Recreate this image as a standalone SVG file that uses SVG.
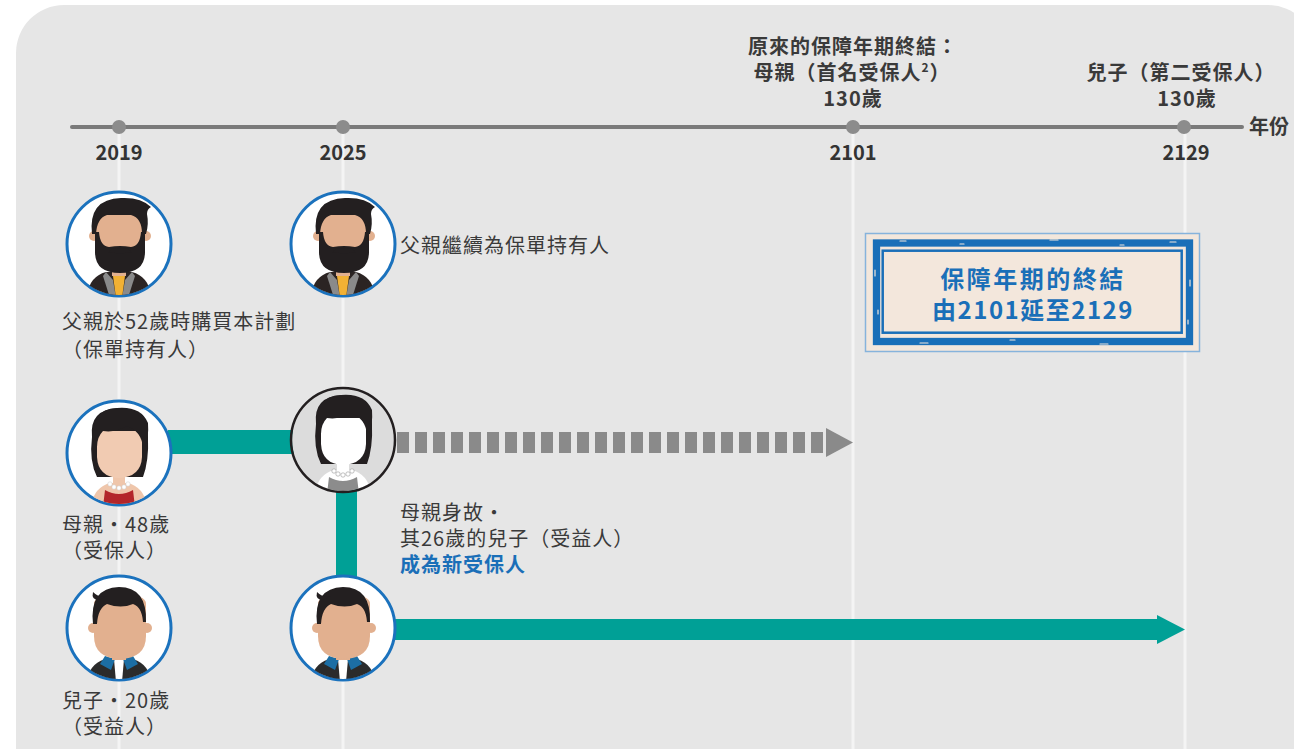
<svg xmlns="http://www.w3.org/2000/svg" width="1294" height="749" viewBox="0 0 1294 749">
  <style>
    .t { font-family: "Noto Sans CJK TC", "Noto Sans", sans-serif; font-size: 20px; fill: #3a3a3a; letter-spacing: 1px; }
    .b { font-weight: bold; }
    .yr { font-family: "Noto Sans CJK TC", "Noto Sans", sans-serif; font-size: 20px; font-weight: bold; fill: #333; text-anchor: middle; }
    .mid { text-anchor: middle; }
    .blue { fill: #1a6fb8; }
    .guide { stroke: #f4f4f4; stroke-width: 3; }
    .dot { fill: #8c8c8c; }
    .ring { fill: #fff; stroke: #1b72bd; stroke-width: 3; }
    .teal { fill: #00a096; }
    .skin { fill: #e2b08f; }
    .hair { fill: #231f20; }
    .stamp { font-size: 24px; }
  </style>
  <defs>
    <clipPath id="disc"><circle cx="0" cy="0" r="51"/></clipPath>

    <!-- father: dark swept hair, full beard, dark jacket -->
    <g id="art-father" clip-path="url(#disc)">
      <path d="M-32 54 Q-31 33 -13 28 L13 28 Q31 33 32 54 Z" fill="#2b2423"/>
      <path d="M-13 28 L-6 36 L-3 54 L-9 54 L-16 32 Z" fill="#8a8a8a"/>
      <path d="M13 28 L6 36 L3 54 L9 54 L16 32 Z" fill="#8a8a8a"/>
      <path d="M-6 32 L6 32 L3 54 L-3 54 Z" fill="#f2b134"/>
      <rect x="-7" y="16" width="14" height="16" class="skin"/>
      <circle cx="-25" cy="-8" r="5" class="skin"/>
      <circle cx="27" cy="-8" r="5" class="skin"/>
      <path d="M-23 -30 H25 V8 Q25 26 1 27 Q-23 26 -23 8 Z" class="skin"/>
      <path d="M-24 -12 L-24 8 Q-24 29 1 29 Q26 29 26 8 L26 -12 L22 -12 Q21 2 12 3 Q1 1 -10 3 Q-19 2 -20 -12 Z" class="hair"/>
      <path d="M-11 9 Q-6 2 1 5 Q8 2 13 9 Q9 7 6 9 Q1 10 -4 9 Q-7 7 -11 9 Z" class="hair"/>
      <path d="M-27 -10 Q-31 -45 2 -46 Q22 -47 32 -37 Q28 -35 28 -30 Q30 -20 27 -10 L23 -10 Q23 -26 12 -29 L-12 -29 Q-22 -26 -23 -10 Z" class="hair"/>
    </g>

    <!-- mother: voluminous hair, red dress, pearl necklace -->
    <g id="art-mother" clip-path="url(#disc)">
      <path d="M-27 -16 Q-30 -44 0 -45 Q30 -45 29 -16 Q30 8 24 24 L-22 24 Q-30 8 -27 -16 Z" class="hair"/>
      <path d="M-28 54 Q-26 35 -9 30 L9 30 Q26 35 28 54 Z" fill="#efc6ab"/>
      <path d="M-16 54 L-14 37 Q0 45 14 37 L16 54 Z" fill="#b3262a"/>
      <rect x="-6" y="14" width="12" height="18" fill="#efc6ab"/>
      <path d="M-22 -22 L-22 4 Q-21 24 0 25 Q22 24 23 4 L23 -22 Z" fill="#f1cbb2"/>
      <path d="M-26 -6 Q-31 -44 -2 -45 Q22 -47 29 -30 Q30 -16 26 -6 L24 -6 Q22 -22 8 -27 Q-4 -20 -16 -22 Q-22 -16 -22 -6 Z" class="hair"/>
      <g fill="#fff" stroke="#ccc" stroke-width="0.5">
        <circle cx="-9" cy="31" r="2.2"/><circle cx="-5" cy="34" r="2.2"/><circle cx="0" cy="35" r="2.2"/>
        <circle cx="5" cy="34" r="2.2"/><circle cx="9" cy="31" r="2.2"/>
      </g>
    </g>

    <!-- mother after passing: greyed-out version -->
    <g id="art-mother-grey" clip-path="url(#disc)">
      <circle cx="0" cy="0" r="52" fill="#dcdcdc"/>
      <path d="M-27 -16 Q-30 -44 0 -45 Q30 -45 29 -16 Q30 8 24 24 L-22 24 Q-30 8 -27 -16 Z" class="hair"/>
      <path d="M-28 54 Q-26 35 -9 30 L9 30 Q26 35 28 54 Z" fill="#fff"/>
      <path d="M-16 54 L-14 37 Q0 45 14 37 L16 54 Z" fill="#8c8c8c"/>
      <rect x="-6" y="14" width="12" height="18" fill="#fff"/>
      <path d="M-22 -22 L-22 4 Q-21 24 0 25 Q22 24 23 4 L23 -22 Z" fill="#fff"/>
      <path d="M-26 -6 Q-31 -44 -2 -45 Q22 -47 29 -30 Q30 -16 26 -6 L24 -6 Q22 -22 8 -27 Q-4 -20 -16 -22 Q-22 -16 -22 -6 Z" class="hair"/>
      <g fill="#fff" stroke="#999" stroke-width="0.6">
        <circle cx="-9" cy="31" r="2.2"/><circle cx="-5" cy="34" r="2.2"/><circle cx="0" cy="35" r="2.2"/>
        <circle cx="5" cy="34" r="2.2"/><circle cx="9" cy="31" r="2.2"/>
      </g>
    </g>

    <!-- son: short hair, jacket with blue collar -->
    <g id="art-son" clip-path="url(#disc)">
      <path d="M-32 54 Q-30 34 -10 30 L10 30 Q30 34 32 54 Z" fill="#2b2b2b"/>
      <path d="M-5 31 L5 31 L3 54 L-3 54 Z" fill="#fff"/>
      <path d="M-14 28 L-4 31 L-8 42 L-19 36 Z" fill="#1c6ea4"/>
      <path d="M14 28 L4 31 L8 42 L19 36 Z" fill="#1c6ea4"/>
      <rect x="-7" y="18" width="14" height="14" class="skin"/>
      <circle cx="-26" cy="0" r="5" class="skin"/>
      <circle cx="28" cy="0" r="5" class="skin"/>
      <path d="M-25 -24 Q-25 -34 1 -34 Q27 -34 27 -24 L27 8 Q27 30 1 31 Q-25 30 -25 8 Z" class="skin"/>
      <path d="M-26 -4 Q-30 -40 0 -41 Q28 -41 27 -6 L24 -6 Q23 -21 14 -24 Q2 -19 -12 -24 Q-21 -20 -22 -4 Z" class="hair"/>
      <path d="M-20 -28 Q-28 -28 -26 -36 Q-20 -30 -12 -32 Z" class="hair"/>
    </g>
  </defs>

  <!-- panel -->
  <rect width="1294" height="749" fill="#fff"/>
  <rect x="16" y="5" width="1300" height="790" rx="48" fill="#e6e6e6"/>

  <!-- year guides -->
  <g id="guides">
    <line x1="119" y1="130" x2="119" y2="749" class="guide"/>
    <line x1="343" y1="130" x2="343" y2="749" class="guide"/>
    <line x1="853" y1="130" x2="853" y2="749" class="guide"/>
    <line x1="1185" y1="130" x2="1185" y2="749" class="guide"/>
  </g>

  <!-- timeline axis -->
  <g id="axis">
    <line x1="72" y1="127" x2="1242" y2="127" stroke="#7a7a7a" stroke-width="4" stroke-linecap="round"/>
    <circle cx="119" cy="127" r="7" class="dot"/>
    <circle cx="343" cy="127" r="7" class="dot"/>
    <circle cx="853" cy="127" r="7" class="dot"/>
    <circle cx="1184" cy="127" r="7" class="dot"/>
    <text x="1249" y="134" class="t b" style="letter-spacing:0">年份</text>
    <text x="119" y="160" class="yr">2019</text>
    <text x="343" y="160" class="yr">2025</text>
    <text x="853" y="160" class="yr">2101</text>
    <text x="1186" y="160" class="yr">2129</text>
    <text x="853" y="54" class="t b mid">原來的保障年期終結：</text>
    <text x="852" y="80" class="t b mid">母親（首名受保人<tspan font-size="12" dy="-8">2</tspan><tspan dy="8">）</tspan></text>
    <text x="853" y="106" class="t b mid">130歲</text>
    <text x="1181" y="80" class="t b mid">兒子（第二受保人）</text>
    <text x="1187" y="106" class="t b mid">130歲</text>
  </g>

  <!-- connectors -->
  <g id="connectors">
    <rect x="168" y="430" width="134" height="24" class="teal"/>
    <rect x="336" y="480" width="21" height="110" class="teal"/>
    <rect x="392" y="619" width="767" height="21" class="teal"/>
    <polygon points="1157,615 1185,629.5 1157,644" class="teal"/>
    <line x1="397" y1="442.5" x2="826" y2="442.5" stroke="#8a8a8a" stroke-width="21" stroke-dasharray="12 6"/>
    <polygon points="826,428 853,442.5 826,457" fill="#8a8a8a"/>
  </g>

  <!-- father, 2019 -->
  <g id="father-2019" transform="translate(119 244)">
    <circle r="52" class="ring"/>
    <use href="#art-father"/>
  </g>
  <text x="62" y="329" class="t">父親於52歲時購買本計劃</text>
  <text x="62" y="357" class="t">（保單持有人）</text>

  <!-- father, 2025 -->
  <g id="father-2025" transform="translate(343 244)">
    <circle r="52" class="ring"/>
    <use href="#art-father"/>
  </g>
  <text x="400" y="253" class="t">父親繼續為保單持有人</text>

  <!-- mother, 2019 -->
  <g id="mother-2019" transform="translate(119 453)">
    <circle r="52" class="ring"/>
    <use href="#art-mother"/>
  </g>
  <text x="62" y="532" class="t">母親・48歲</text>
  <text x="62" y="558" class="t">（受保人）</text>

  <!-- mother, 2025 -->
  <g id="mother-2025" transform="translate(343 440)">
    <use href="#art-mother-grey"/>
    <circle r="52" fill="none" stroke="#231f20" stroke-width="2.5"/>
  </g>
  <text x="400" y="520" class="t">母親身故・</text>
  <text x="400" y="546" class="t">其26歲的兒子（受益人）</text>
  <text x="400" y="572" class="t b blue">成為新受保人</text>

  <!-- son, 2019 -->
  <g id="son-2019" transform="translate(119 628)">
    <circle r="52" class="ring"/>
    <use href="#art-son"/>
  </g>
  <text x="62" y="708" class="t">兒子・20歲</text>
  <text x="62" y="734" class="t">（受益人）</text>

  <!-- son, 2025 -->
  <g id="son-2025" transform="translate(343 628)">
    <circle r="52" class="ring"/>
    <use href="#art-son"/>
  </g>

  <!-- coverage extension stamp -->
  <g id="extension-box">
    <rect x="865.5" y="233.5" width="334" height="118" fill="#f3e7dc" stroke="#86b3dc" stroke-width="1.5"/>
    <rect x="876.5" y="243" width="313" height="98.5" fill="none" stroke="#1a6fb8" stroke-width="7.3"/>
    <rect x="882.7" y="250.7" width="299" height="82" fill="none" stroke="#1a6fb8" stroke-width="2.5"/>
    <g stroke="#f3e7dc" stroke-width="1.2" stroke-linecap="round">
      <line x1="900" y1="241" x2="906" y2="241"/>
      <line x1="960" y1="244" x2="964" y2="244"/>
      <line x1="1050" y1="240" x2="1058" y2="240"/>
      <line x1="1120" y1="245" x2="1124" y2="245"/>
      <line x1="1170" y1="242" x2="1176" y2="242"/>
      <line x1="875" y1="270" x2="875" y2="276"/>
      <line x1="878" y1="310" x2="878" y2="314"/>
      <line x1="1190" y1="280" x2="1190" y2="286"/>
      <line x1="1188" y1="320" x2="1188" y2="324"/>
      <line x1="920" y1="343" x2="928" y2="343"/>
      <line x1="1010" y1="340" x2="1015" y2="340"/>
      <line x1="1100" y1="344" x2="1108" y2="344"/>
    </g>
    <text x="1033" y="288" class="t b blue mid stamp" style="letter-spacing:2.5px">保障年期的終結</text>
    <text x="1033" y="319" class="t b blue mid stamp" style="letter-spacing:1.5px">由2101延至2129</text>
  </g>
</svg>
